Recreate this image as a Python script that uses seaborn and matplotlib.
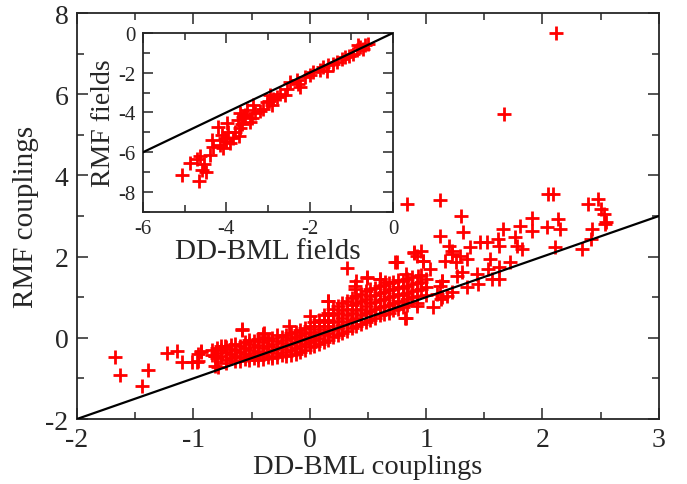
import matplotlib
matplotlib.use("Agg")
import matplotlib.pyplot as plt
import seaborn as sns
import numpy as np
import pandas as pd
from matplotlib.ticker import MultipleLocator

# ---------------- data: main panel (couplings) ----------------
# dense band, listed column by column (x value, several y values)
band_cols = {
    -0.84: [-0.30, -0.42],
    -0.80: [-0.25, -0.38, -0.50],
    -0.76: [-0.30, -0.45, -0.20],
    -0.72: [-0.22, -0.35, -0.55, -0.62],
    -0.68: [-0.28, -0.40, -0.50, -0.18],
    -0.64: [-0.15, -0.30, -0.45, -0.58],
    -0.60: [-0.20, -0.35, -0.48, -0.56],
    -0.56: [-0.10, -0.25, -0.40, -0.52],
    -0.52: [-0.15, -0.30, -0.45, -0.55, -0.05],
    -0.48: [-0.08, -0.22, -0.38, -0.50],
    -0.44: [-0.02, -0.18, -0.32, -0.46, -0.54],
    -0.40: [-0.10, -0.25, -0.40, -0.52, 0.03],
    -0.36: [-0.05, -0.20, -0.35, -0.48],
    -0.32: [0.00, -0.15, -0.30, -0.44, -0.50],
    -0.28: [-0.08, -0.22, -0.38, -0.47, 0.06],
    -0.24: [0.02, -0.12, -0.28, -0.42],
    -0.20: [0.08, -0.05, -0.20, -0.35, -0.45],
    -0.16: [0.00, -0.15, -0.30, -0.42, 0.12],
    -0.12: [0.15, 0.02, -0.10, -0.25, -0.40],
    -0.08: [0.08, -0.05, -0.20, -0.35, 0.20],
    -0.04: [0.25, 0.12, -0.02, -0.15, -0.30],
    0.00: [0.30, 0.15, 0.02, -0.10, -0.22],
    0.04: [0.38, 0.22, 0.08, -0.05, -0.20],
    0.08: [0.45, 0.30, 0.15, 0.00, -0.15],
    0.12: [0.55, 0.38, 0.22, 0.06, -0.10],
    0.16: [0.62, 0.45, 0.30, 0.12, -0.05],
    0.20: [0.72, 0.55, 0.38, 0.20, 0.02],
    0.24: [0.78, 0.60, 0.42, 0.25, 0.08],
    0.28: [0.85, 0.68, 0.50, 0.32, 0.12],
    0.32: [0.90, 0.72, 0.55, 0.38, 0.18],
    0.36: [0.98, 0.80, 0.62, 0.44, 0.25],
    0.40: [1.02, 0.85, 0.68, 0.50, 0.30],
    0.44: [1.08, 0.90, 0.72, 0.55, 0.35],
    0.48: [1.15, 0.95, 0.78, 0.60, 0.40],
    0.52: [1.20, 1.02, 0.85, 0.65, 0.45],
    0.56: [1.22, 1.05, 0.88, 0.70, 0.50],
    0.60: [1.28, 1.10, 0.92, 0.75, 0.55],
    0.64: [1.30, 1.12, 0.95, 0.78, 0.58],
    0.68: [1.35, 1.18, 1.00, 0.82, 0.62],
    0.72: [1.38, 1.20, 1.02, 0.85, 0.68],
    0.76: [1.42, 1.25, 1.08, 0.90, 0.72],
    0.80: [1.40, 1.22, 1.05, 0.88, 0.75],
    0.84: [1.45, 1.28, 1.10, 0.95, 0.80],
    0.88: [1.50, 1.32, 1.15, 1.00],
    0.92: [1.35, 1.18, 1.02, 0.85],
    0.96: [1.55, 1.38, 1.20],
    1.00: [1.45, 1.25, 1.05],
}

# scattered points (outliers)
scatter_x = [-1.67, -1.63, -1.44, -1.39, -1.23, -1.14, -1.10, -1.01, -0.97, -0.96,
             -0.93, -0.81, -0.81, -0.73, -0.58, -0.40, -0.585, -0.39, -0.18, 0.00,
             0.16, -0.93, -0.96, -0.81, -0.79,
             0.32, 0.16, 0.75, 0.92, 0.83, 0.39, 0.49, 0.60, 0.83, 0.93,
             0.73, 0.90, 0.97, 0.82, 0.92, 1.06, 1.09, 1.14, 1.22, 1.26, 1.31, 1.18, 1.13,
             0.40, 0.49, 0.39, 0.60, 0.65,
             0.84, 1.12, 1.30, 1.32, 1.12, 1.91, 1.81, 1.91, 1.66, 1.62, 1.76, 1.78, 1.82,
             1.63, 1.52, 1.46, 1.38, 1.20, 1.22, 1.29, 1.35, 1.55, 1.72, 1.63, 1.53, 1.44,
             1.57, 1.63, 1.45, 1.35, 1.27, 1.16, 1.03, 0.96, 0.90, 0.97, 1.14, 1.12, 1.22,
             1.14, 2.04, 2.11, 2.15, 2.13, 2.34, 2.42, 2.43, 2.55, 2.05, 2.09, 2.39, 2.48,
             2.50, 2.53, 2.54, 2.12, 1.67]
scatter_y = [-0.47, -0.92, -1.19, -0.79, -0.37, -0.33, -0.60, -0.60, -0.60, -0.40,
             -0.33, -0.45, -0.69, -0.20, 0.22, 0.09, 0.20, 0.11, 0.28, 0.54,
             0.91, -0.36, -0.56, -0.44, -0.73,
             1.72, 0.91, 1.88, 2.02, 0.50, 1.28, 1.47, 1.45, 1.57, 1.53,
             1.87, 2.09, 1.90, 0.50, 0.79, 0.76, 1.08, 1.41, 2.06, 1.86, 1.61, 1.04, 0.96,
             1.41, 1.49, 1.20, 1.45, 1.37,
             3.30, 3.39, 3.00, 2.61, 2.51, 2.95, 2.75, 2.63, 2.68, 2.43, 2.48, 2.26, 2.19,
             2.26, 2.36, 2.36, 2.24, 2.26, 2.14, 2.01, 1.94, 1.94, 1.87, 1.74, 1.69, 1.57,
             1.45, 1.45, 1.33, 1.25, 1.52, 1.89, 1.69, 2.14, 2.11, 1.89, 1.40, 1.28, 1.13,
             1.00, 2.73, 2.24, 2.68, 2.93, 2.19, 2.43, 2.68, 2.85, 3.54, 3.54, 3.30, 3.42,
             3.17, 3.05, 2.80, 7.51, 5.51]

diag_main = [-2, 3]

# ---------------- data: inset (fields) ----------------
field_x = [-5.05, -4.65, -4.87, -4.59, -4.54, -4.63, -4.70, -4.49, -4.39, -4.31,
           -4.33, -4.19, -3.98, -4.11, -4.03, -3.95, -4.07, -4.15, -3.91, -3.83,
           -3.69, -3.67, -3.71, -3.67, -3.59, -3.51, -3.39, -3.35, -3.31, -3.43,
           -3.63, -3.11, -3.03, -2.95, -2.87, -2.91, -2.79, -2.71, -2.59, -2.55,
           -2.47, -2.27, -2.23, -2.31, -2.11, -1.91, -1.75, -1.67, -1.55, -1.43,
           -1.23, -1.15, -0.95, -0.87, -0.79, -0.67, -0.59, -0.83, -1.59, -1.99,
           -4.00, -3.80, -3.55, -3.20, -2.98, -1.35, -1.05, -0.72]
field_y = [-7.13, -7.43, -6.52, -6.88, -6.60, -6.17, -6.33, -6.97, -6.13, -5.72,
           -5.38, -4.72, -4.55, -5.13, -5.30, -4.97, -5.80, -5.63, -5.55, -5.30,
           -5.17, -4.80, -4.38, -4.05, -4.22, -3.88, -4.30, -3.63, -4.05, -4.47,
           -4.60, -3.80, -3.47, -3.13, -3.30, -3.63, -3.22, -3.05, -3.13, -2.80,
           -2.47, -2.55, -2.72, -2.38, -2.22, -1.97, -1.88, -1.72, -1.63, -1.55,
           -1.30, -1.22, -1.05, -0.88, -0.72, -0.63, -0.55, -0.63, -1.90, -2.13,
           -5.45, -5.00, -4.15, -3.95, -3.40, -1.45, -1.15, -0.80]

diag_inset = [-6, 0]

# ---------------- build frames ----------------
bx, by = [], []
for xv, ys in band_cols.items():
    for yv in ys:
        bx.append(xv)
        by.append(yv)
main_df = pd.DataFrame({"x": bx + scatter_x, "y": by + scatter_y})
inset_df = pd.DataFrame({"x": field_x, "y": field_y})

# ---------------- style ----------------
sns.set_style("ticks")
plt.rcParams["font.family"] = ["Liberation Serif", "DejaVu Serif"]
plt.rcParams["axes.unicode_minus"] = False
plt.rcParams["axes.linewidth"] = 1.3

fig = plt.figure(figsize=(6.87, 4.85), dpi=100)
ax = fig.add_axes([0.112, 0.134, 0.847, 0.837])

sns.scatterplot(data=main_df, x="x", y="y", marker="+", color="#ff0000",
                s=110, linewidth=2.0, ax=ax, zorder=3)
sns.lineplot(x=diag_main, y=diag_main, color="black", linewidth=1.6, ax=ax, zorder=4)

ax.set_xlim(-2, 3)
ax.set_ylim(-2, 8)
ax.xaxis.set_major_locator(MultipleLocator(1))
ax.xaxis.set_minor_locator(MultipleLocator(0.5))
ax.yaxis.set_major_locator(MultipleLocator(2))
ax.yaxis.set_minor_locator(MultipleLocator(1))
ax.tick_params(which="both", direction="in", top=True, right=True, width=1.1)
ax.tick_params(which="major", length=8, labelsize=20, pad=6)
ax.tick_params(which="minor", length=5)
ax.set_xlabel("DD-BML couplings", fontsize=20.5, labelpad=1)
ax.set_ylabel("RMF couplings", fontsize=21, labelpad=5)

# ---------------- inset ----------------
axi = fig.add_axes([0.208, 0.561, 0.364, 0.369])
sns.scatterplot(data=inset_df, x="x", y="y", marker="+", color="#ff0000",
                s=110, linewidth=2.0, ax=axi, zorder=3)
sns.lineplot(x=diag_inset, y=diag_inset, color="black", linewidth=1.6, ax=axi, zorder=4)
axi.set_xlim(-6, 0)
axi.set_ylim(-9, 0)
axi.xaxis.set_major_locator(MultipleLocator(2))
axi.xaxis.set_minor_locator(MultipleLocator(1))
axi.yaxis.set_major_locator(MultipleLocator(2))
axi.yaxis.set_minor_locator(MultipleLocator(1))
axi.tick_params(which="both", direction="in", top=True, right=True, width=1.1)
axi.tick_params(which="major", length=7, labelsize=15, pad=5)
axi.tick_params(which="minor", length=5)
axi.set_xlabel("DD-BML fields", fontsize=21, labelpad=0)
axi.set_ylabel("RMF fields", fontsize=20, labelpad=2)

fig.savefig("out.png", dpi=100)
